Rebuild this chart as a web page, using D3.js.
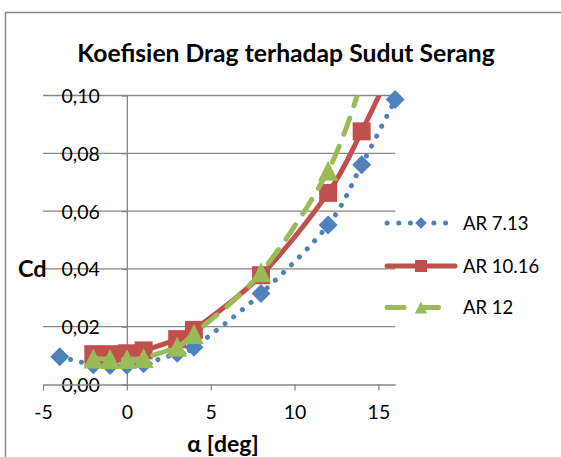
<!DOCTYPE html>
<html>
<head>
<meta charset="utf-8">
<script src="https://cdn.jsdelivr.net/npm/d3@7"></script>
<style>
  html, body { margin: 0; padding: 0; background: #fff; }
  svg { display: block; font-family: Lato, "Open Sans", sans-serif; }
</style>
</head>
<body>
<svg id="chart" width="561" height="457"></svg>
<script>
// Angle of attack values (degrees) for each series
const alphaAR713 = [-4, -2, -1, 0, 1, 3, 4, 8, 12, 14, 16];
const cdAR713    = [0.0096, 0.0068, 0.0066, 0.0067, 0.0072, 0.0108, 0.0129, 0.0315, 0.0552, 0.0760, 0.0986];

const alphaAR1016 = [-2, -1, 0, 1, 3, 4, 8, 12, 14, 16];
const cdAR1016    = [0.0105, 0.0105, 0.0108, 0.0118, 0.0157, 0.0189, 0.0378, 0.0663, 0.0876, 0.1120];

const alphaAR12 = [-2, -1, 0, 1, 3, 4, 8, 12, 14];
const cdAR12    = [0.0090, 0.0088, 0.0088, 0.0092, 0.0131, 0.0175, 0.0388, 0.0740, 0.1050];

const seriesNames = ["AR 7.13", "AR 10.16", "AR 12"];
const xTickValues = [-5, 0, 5, 10, 15];
const yTickValues = [0, 0.02, 0.04, 0.06, 0.08, 0.10];

const chartTitle = "Koefisien Drag terhadap Sudut Serang";
const xTitle = "α [deg]";
const yTitle = "Cd";

const svg = d3.select("#chart");

// Chart frame
svg.append("rect")
  .attr("x", 5.5).attr("y", 12.5).attr("width", 600).attr("height", 500)
  .attr("fill", "#fff").attr("stroke", "#868686").attr("stroke-width", 1.5);

const x = d3.scaleLinear().domain([-5, 16]).range([43, 395.2]);
const y = d3.scaleLinear().domain([0, 0.10]).range([384.5, 95.5]);

const gridColor = "#868686";

// Horizontal gridlines
svg.append("g").selectAll("line")
  .data(yTickValues.filter(v => v > 0))
  .join("line")
  .attr("x1", x(-5)).attr("x2", x(16))
  .attr("y1", d => y(d)).attr("y2", d => y(d))
  .attr("stroke", gridColor).attr("stroke-width", 1.3);

// Vertical value axis crossing at alpha = 0
const commaFmt = v => d3.format(".2f")(v).replace(".", ",");
const yAxis = svg.append("g")
  .attr("transform", `translate(${x(0)},0)`)
  .call(d3.axisLeft(y).tickValues(yTickValues).tickSize(5).tickSizeOuter(0)
        .tickPadding(22).tickFormat(commaFmt));
yAxis.select(".domain").attr("stroke", gridColor).attr("stroke-width", 1.3);
yAxis.selectAll(".tick line").attr("stroke", gridColor).attr("stroke-width", 1.3);
yAxis.selectAll(".tick text")
  .attr("font-family", "Lato, sans-serif").attr("font-size", 19.5).attr("fill", "#000")
  .attr("dy", "0.36em");

// Horizontal category axis at Cd = 0
const xAxis = svg.append("g")
  .attr("transform", `translate(0,${y(0)})`)
  .call(d3.axisBottom(x).tickValues(xTickValues).tickSize(6).tickSizeOuter(0)
        .tickPadding(15).tickFormat(d => String(d)));
xAxis.select(".domain").attr("stroke", gridColor).attr("stroke-width", 1.3);
xAxis.selectAll(".tick line").attr("stroke", gridColor).attr("stroke-width", 1.3);
xAxis.selectAll(".tick text")
  .attr("font-family", "Lato, sans-serif").attr("font-size", 19.5).attr("fill", "#000");

// Clip region for the series lines
svg.append("defs").append("clipPath").attr("id", "plotClip")
  .append("rect").attr("x", 36).attr("y", y(0.10)).attr("width", 368).attr("height", y(0) - y(0.10) + 10);

const line = d3.line().curve(d3.curveCatmullRom.alpha(0))
  .x(d => x(d[0])).y(d => y(d[1]));

// Marker shapes (relative to the point)
const diamondPath = s => `M0,${-s}L${s},0L0,${s}L${-s},0Z`;
const squarePath = s => `M${-s},${-s}H${s}V${s}H${-s}Z`;
const trianglePath = (w, h) => `M0,${-h / 2}L${w / 2},${h / 2}L${-w / 2},${h / 2}Z`;

const series = [
  { name: seriesNames[0], xs: alphaAR713, ys: cdAR713, color: "#4F81BD",
    width: 5, dash: "0.1 11", legendDash: "0.1 11.6", marker: diamondPath(9.5), legendMarker: diamondPath(5.8) },
  { name: seriesNames[1], xs: alphaAR1016, ys: cdAR1016, color: "#C0504D",
    width: 5, dash: null, legendDash: null, marker: squarePath(9), legendMarker: squarePath(6) },
  { name: seriesNames[2], xs: alphaAR12, ys: cdAR12, color: "#9BBB59",
    width: 5, dash: "17 13", legendDash: "17 17.5", marker: trianglePath(20, 20), legendMarker: trianglePath(12.5, 12) }
];

const plotG = svg.append("g");
series.forEach(s => {
  const pts = s.xs.map((a, i) => [a, s.ys[i]]);
  const g = plotG.append("g");
  g.append("path")
    .attr("clip-path", "url(#plotClip)")
    .attr("d", line(pts))
    .attr("fill", "none")
    .attr("stroke", s.color)
    .attr("stroke-width", s.width)
    .attr("stroke-linecap", "round")
    .attr("stroke-linejoin", "round")
    .attr("stroke-dasharray", s.dash);
  // Markers are shown only for points inside the value range
  g.selectAll("path.mk")
    .data(pts.filter(p => p[1] <= 0.10 && p[0] <= 16))
    .join("path")
    .attr("class", "mk")
    .attr("transform", p => `translate(${x(p[0])},${y(p[1])})`)
    .attr("d", s.marker)
    .attr("fill", s.color);
});

// Legend
const legendYs = [223, 266, 307.5];
const legend = svg.append("g");
series.forEach((s, i) => {
  const ly = legendYs[i];
  legend.append("line")
    .attr("x1", 387).attr("x2", 455)
    .attr("y1", ly).attr("y2", ly)
    .attr("stroke", s.color).attr("stroke-width", s.width)
    .attr("stroke-linecap", "round")
    .attr("stroke-dasharray", s.legendDash);
  legend.append("path")
    .attr("transform", `translate(421,${ly})`)
    .attr("d", s.legendMarker)
    .attr("fill", s.color);
  legend.append("text")
    .attr("x", 463).attr("y", ly).attr("dy", "0.36em")
    .attr("font-size", 18.5).attr("fill", "#000")
    .text(s.name);
});

// Titles
svg.append("text")
  .attr("x", 286).attr("y", 62)
  .attr("text-anchor", "middle")
  .attr("font-size", 24.7).attr("font-weight", "bold").attr("fill", "#000")
  .text(chartTitle);

svg.append("text")
  .attr("x", 18).attr("y", 277)
  .attr("font-size", 23.5).attr("font-weight", "bold").attr("fill", "#000")
  .text(yTitle);

svg.append("text")
  .attr("x", 223).attr("y", 452)
  .attr("text-anchor", "middle")
  .attr("font-size", 23).attr("font-weight", "bold").attr("fill", "#000")
  .text(xTitle);
</script>
</body>
</html>
